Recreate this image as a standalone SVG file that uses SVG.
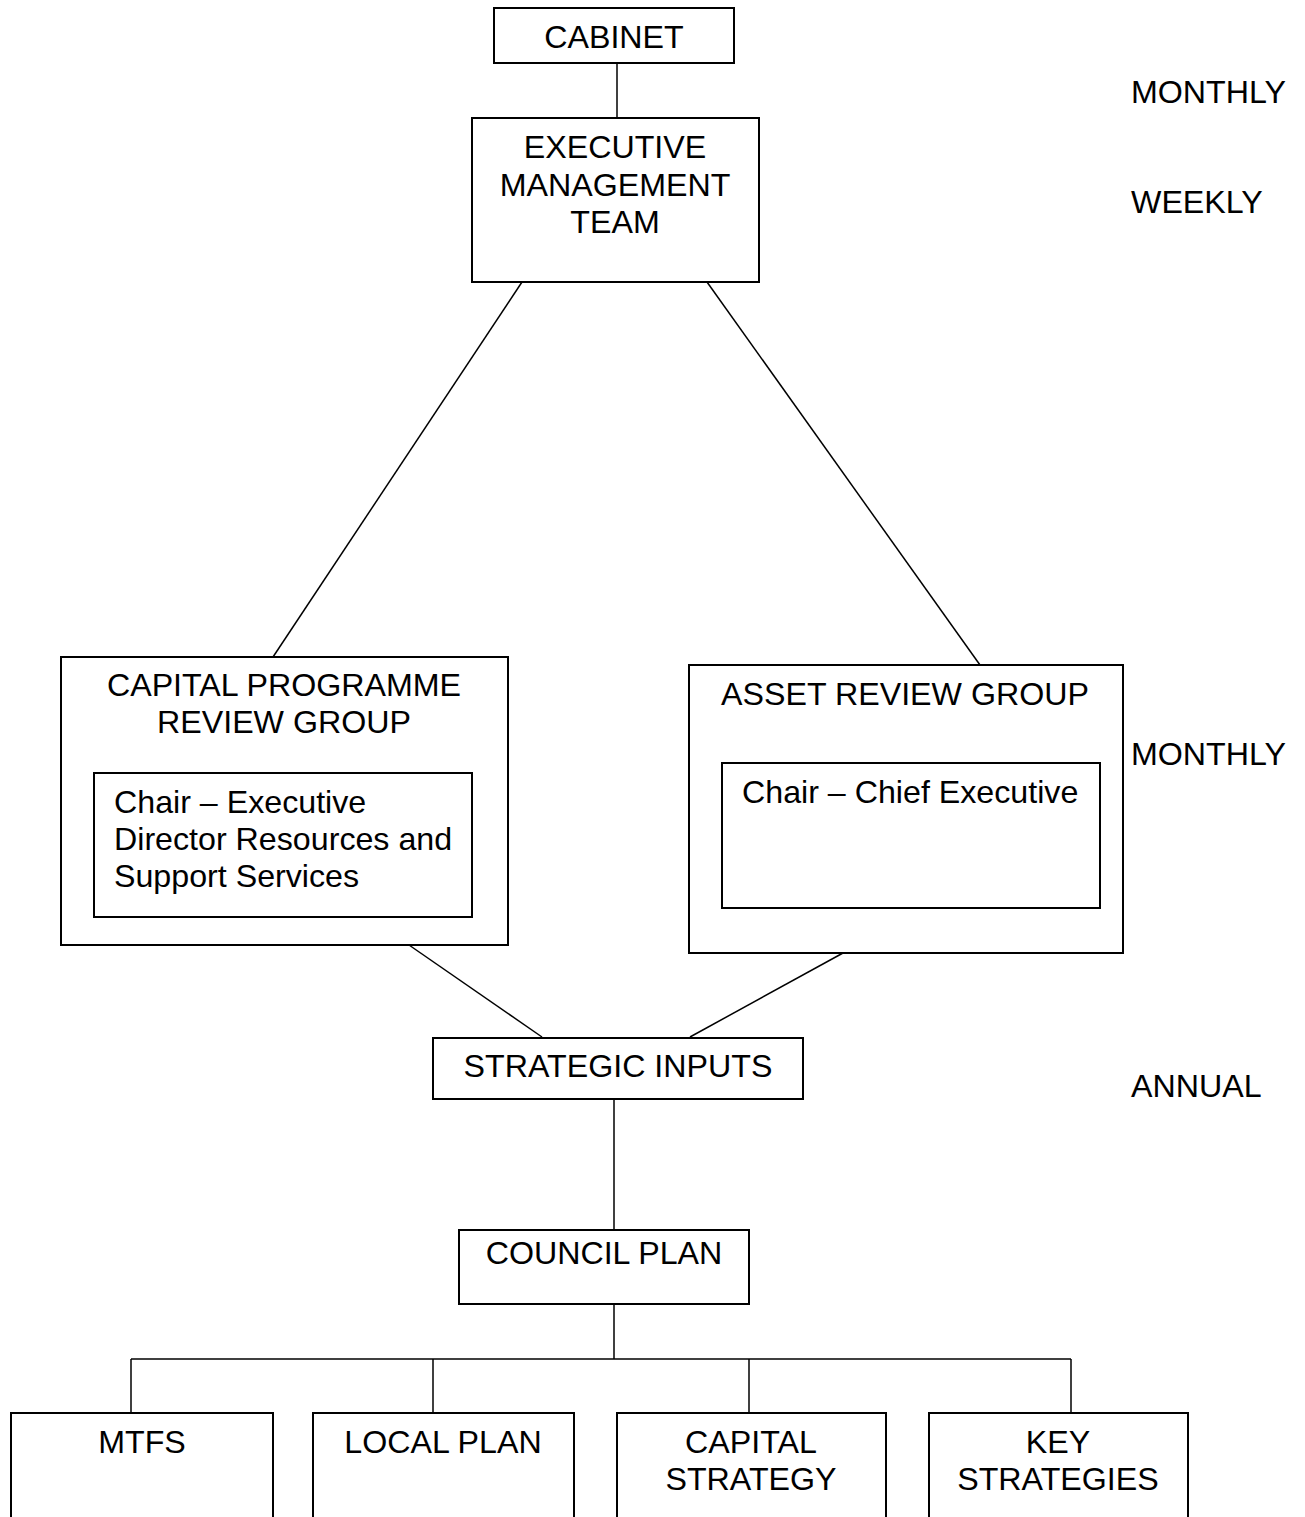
<svg xmlns="http://www.w3.org/2000/svg" width="1305" height="1517" viewBox="0 0 1305 1517">
<style>
.box{fill:#fff;stroke:#000;stroke-width:2}
.ln{stroke:#000;stroke-width:1.5;fill:none}
text{font-family:"Liberation Sans",Arial,sans-serif;font-size:32.2px;fill:#000}
.c{text-anchor:middle}
</style>
<rect width="1305" height="1517" fill="#fff"/>
<g id="connectors">
<line class="ln" x1="617" y1="63" x2="617" y2="118"/>
<line class="ln" x1="522" y1="282" x2="273" y2="657"/>
<line class="ln" x1="707" y1="282" x2="980" y2="665"/>
<line class="ln" x1="409" y1="945" x2="542" y2="1037"/>
<line class="ln" x1="843" y1="953" x2="690" y2="1037"/>
<line class="ln" x1="614" y1="1099" x2="614" y2="1230"/>
<line class="ln" x1="614" y1="1304" x2="614" y2="1359"/>
<line class="ln" x1="131" y1="1359" x2="1071" y2="1359"/>
<line class="ln" x1="131" y1="1359" x2="131" y2="1413"/>
<line class="ln" x1="433" y1="1359" x2="433" y2="1413"/>
<line class="ln" x1="749" y1="1359" x2="749" y2="1413"/>
<line class="ln" x1="1071" y1="1359" x2="1071" y2="1413"/>
</g>
<g id="cabinet">
<rect class="box" x="494" y="8" width="240" height="55"/>
<text class="c" x="614" y="48">CABINET</text>
</g>
<g id="emt">
<rect class="box" x="472" y="118" width="287" height="164"/>
<text class="c" x="615" y="158">EXECUTIVE</text>
<text class="c" x="615" y="196">MANAGEMENT</text>
<text class="c" x="615" y="233">TEAM</text>
</g>
<g id="cprg">
<rect class="box" x="61" y="657" width="447" height="288"/>
<text class="c" x="284" y="696">CAPITAL PROGRAMME</text>
<text class="c" x="284" y="733">REVIEW GROUP</text>
<rect class="box" x="94" y="773" width="378" height="144"/>
<text x="114" y="813">Chair – Executive</text>
<text x="114" y="850">Director Resources and</text>
<text x="114" y="887">Support Services</text>
</g>
<g id="arg">
<rect class="box" x="689" y="665" width="434" height="288"/>
<text class="c" x="905" y="705">ASSET REVIEW GROUP</text>
<rect class="box" x="722" y="763" width="378" height="145"/>
<text x="742" y="803">Chair – Chief Executive</text>
</g>
<g id="strategic-inputs">
<rect class="box" x="433" y="1038" width="370" height="61"/>
<text class="c" x="618" y="1077">STRATEGIC INPUTS</text>
</g>
<g id="council-plan">
<rect class="box" x="459" y="1230" width="290" height="74"/>
<text class="c" x="604" y="1264">COUNCIL PLAN</text>
</g>
<g id="mtfs">
<rect class="box" x="11" y="1413" width="262" height="130"/>
<text class="c" x="142" y="1453">MTFS</text>
</g>
<g id="local-plan">
<rect class="box" x="313" y="1413" width="261" height="130"/>
<text class="c" x="443" y="1453">LOCAL PLAN</text>
</g>
<g id="capital-strategy">
<rect class="box" x="617" y="1413" width="269" height="130"/>
<text class="c" x="751" y="1453">CAPITAL</text>
<text class="c" x="751" y="1490">STRATEGY</text>
</g>
<g id="key-strategies">
<rect class="box" x="929" y="1413" width="259" height="130"/>
<text class="c" x="1058" y="1453">KEY</text>
<text class="c" x="1058" y="1490">STRATEGIES</text>
</g>
<g id="frequency-labels">
<text x="1131" y="103">MONTHLY</text>
<text x="1131" y="213">WEEKLY</text>
<text x="1131" y="765">MONTHLY</text>
<text x="1131" y="1097">ANNUAL</text>
</g>
</svg>
